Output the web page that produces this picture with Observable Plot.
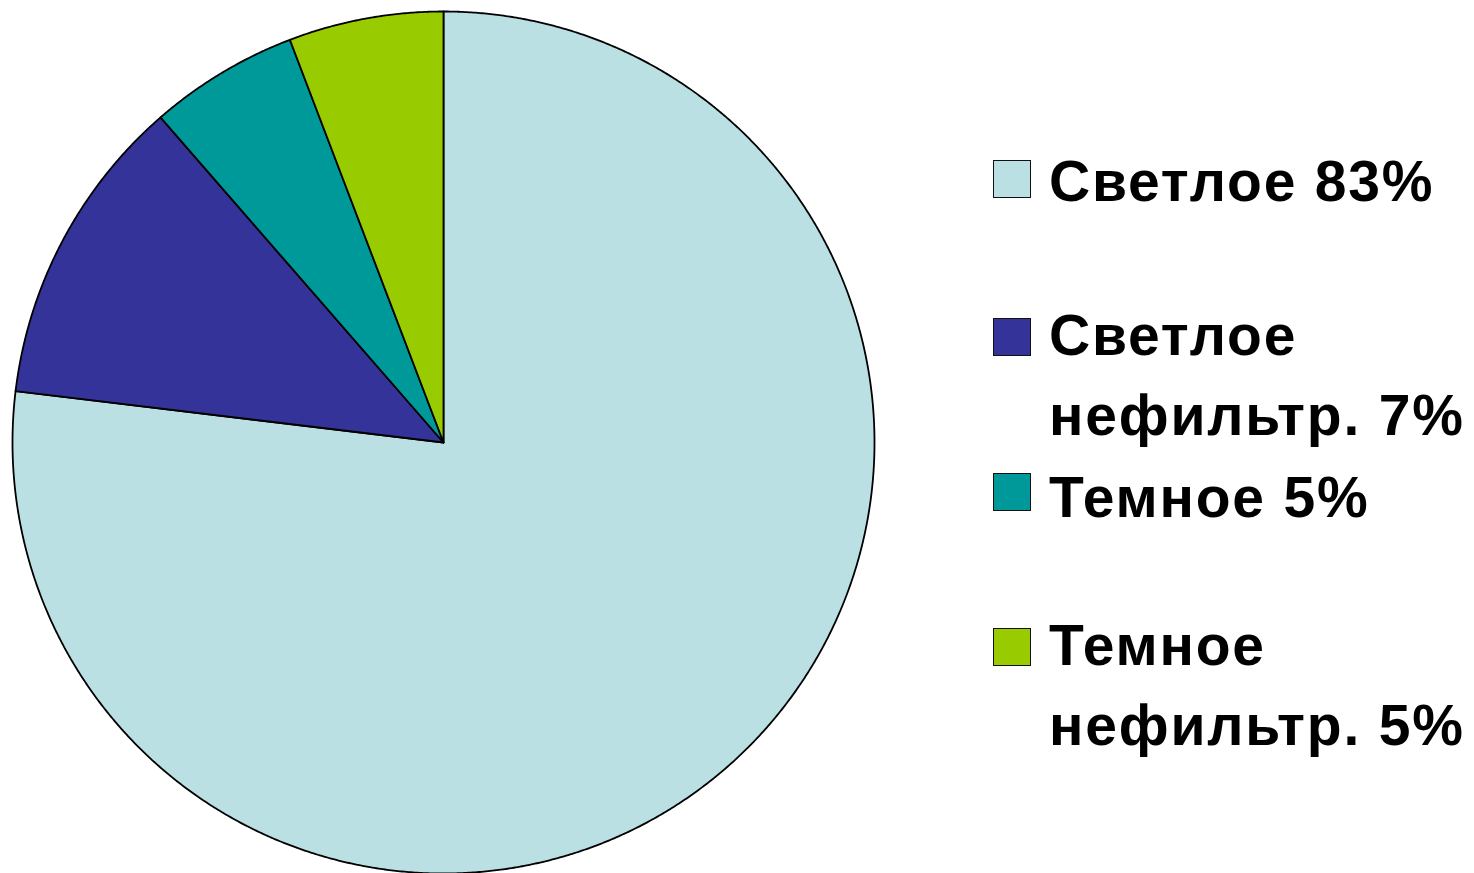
<!DOCTYPE html>
<html>
<head>
<meta charset="utf-8">
<script src="https://cdn.jsdelivr.net/npm/d3@7"></script>
<script src="https://cdn.jsdelivr.net/npm/@observablehq/plot@0.6"></script>
<style>
  html, body { margin: 0; padding: 0; background: #fff; }
  #wrap { position: relative; width: 1474px; height: 873px; overflow: hidden; }
  #chart { position: absolute; left: 0; top: 0; }
  .sw { position: absolute; left: 993px; width: 36px; height: 36px; border: 1.5px solid #111; box-sizing: content-box; }
  .lt { position: absolute; left: 1049px; font-family: "Liberation Sans", Arial, sans-serif; font-weight: bold; font-size: 57px; letter-spacing: 1.8px; line-height: 80px; color: #000; white-space: nowrap; }
</style>
</head>
<body>
<div id="wrap"><div id="chart"></div></div>
<script>
// Data (slice shares, clockwise from 12 o'clock)
const categories = ["Светлое", "Светлое нефильтр.", "Темное", "Темное нефильтр."];
const shares = [76.9, 11.7, 5.6, 5.8];
const legendLabels = [["Светлое 83%"], ["Светлое", "нефильтр. 7%"], ["Темное 5%"], ["Темное", "нефильтр. 5%"]];
const colors = ["#BBE0E3", "#333399", "#009999", "#99CC00"];

const table = categories.map((c, i) => ({category: c, value: shares[i]}));
const arcs = d3.pie().sort(null).value(d => d.value)(table);

// Build slice outlines (center -> arc -> center) in unit-circle coordinates
const pts = [];
for (const a of arcs) {
  const cat = a.data.category;
  pts.push({category: cat, x: 0, y: 0});
  const n = Math.max(2, Math.ceil((a.endAngle - a.startAngle) / 0.005));
  for (let k = 0; k <= n; k++) {
    const t = a.startAngle + (a.endAngle - a.startAngle) * k / n;
    pts.push({category: cat, x: Math.sin(t), y: Math.cos(t)});
  }
  pts.push({category: cat, x: 0, y: 0});
}

const chart = Plot.plot({
  width: 1474,
  height: 873,
  marginLeft: 12,
  marginRight: 600,
  marginTop: 11,
  marginBottom: 0,
  x: {domain: [-1, 1], axis: null},
  y: {domain: [-1, 1], axis: null},
  color: {domain: categories, range: colors},
  marks: [
    Plot.line(pts, {x: "x", y: "y", z: "category", fill: "category", stroke: "#000", strokeWidth: 1.8, strokeLinejoin: "round"})
  ]
});
document.getElementById("chart").appendChild(chart);

// Legend
const wrap = document.getElementById("wrap");
const baselines = [201, 355, 517, 665];
const swatchTops = [160, 318, 473, 628];
legendLabels.forEach((lines, i) => {
  const sw = document.createElement("div");
  sw.className = "sw";
  sw.style.top = swatchTops[i] + "px";
  sw.style.background = colors[i];
  wrap.appendChild(sw);
  const t = document.createElement("div");
  t.className = "lt";
  t.style.top = (baselines[i] - 59.7) + "px";
  t.innerHTML = lines.join("<br>");
  wrap.appendChild(t);
});
</script>
</body>
</html>
